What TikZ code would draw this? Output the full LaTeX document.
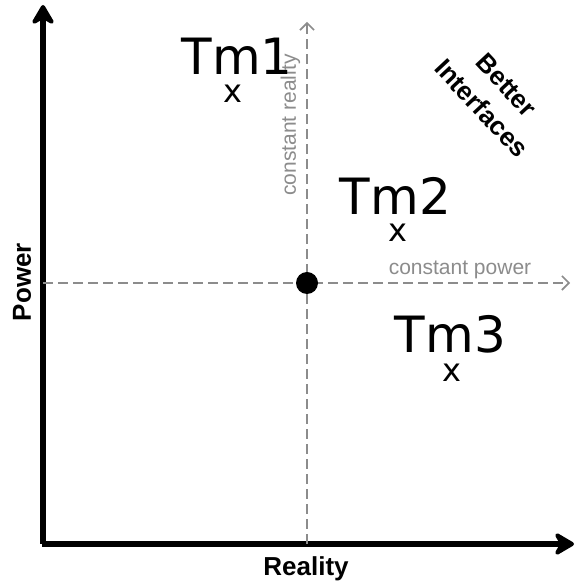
\documentclass[tikz,border=0pt]{standalone}
\usepackage{fontspec}
\setmainfont{Liberation Sans}
\newfontfamily\tmfont{DejaVu Sans}
\usetikzlibrary{arrows.meta}
\definecolor{guidegray}{HTML}{8C8C8C}
\begin{document}
\begin{tikzpicture}[x=0.5pt,y=0.5pt,
  axis/.style={line width=2.6pt,-{Stealth[length=12pt,width=14pt,inset=4pt,round]}},
  guide/.style={guidegray,line width=0.8pt,dash pattern=on 5pt off 2.5pt,-{Straight Barb[length=3.5pt,width=7pt]}},
  guidelabel/.style={guidegray,font=\fontsize{10.5}{12}\selectfont,inner sep=0pt},
  axislabel/.style={font=\fontsize{13}{17}\selectfont\bfseries,inner sep=0pt},
  tmlabel/.style={font=\tmfont\fontsize{25}{28}\selectfont,inner sep=0pt},
  tmmark/.style={font=\tmfont\fontsize{16}{18}\selectfont,inner sep=0pt}]
\useasboundingbox[fill=white] (0,0) rectangle (576,583);
% axes
\coordinate (origin) at (43,39);
\coordinate (powertip) at (43,578);
\coordinate (realitytip) at (574,39);
\draw[axis] (origin) -- (powertip);
\draw[axis] (41.7,39) -- (realitytip);
\node[axislabel,rotate=90] (power) at (22,301) {Power};
\node[axislabel] (reality) at (306,14) {Reality};
% constant lines through the current point
\coordinate (realityfoot) at (307,39);
\coordinate (realitytop) at (307,561);
\coordinate (powerfoot) at (43,300);
\coordinate (powerend) at (570,300);
\draw[guide] (realityfoot) -- (realitytop);
\draw[guide] (powerfoot) -- (powerend);
\node[circle,fill=black,inner sep=0pt,minimum size=11pt] (now) at (307,300) {};
\node[guidelabel,rotate=90] (creality) at (290.5,458) {constant reality};
\node[guidelabel] (cpower) at (460,313) {constant power};
\node[axislabel,rotate=-47,align=center] (better) at (494,486) {Better\\Interfaces};
% techniques
\node[tmlabel] (tmone) at (237,526.5) {Tm1};
\node[tmmark] (tmonex) at (233,489) {x};
\node[tmlabel] (tmtwo) at (395.5,387) {Tm2};
\node[tmmark] (tmtwox) at (398,350.5) {x};
\node[tmlabel] (tmthree) at (450.5,248.5) {Tm3};
\node[tmmark] (tmthreex) at (452,210.5) {x};
\end{tikzpicture}
\end{document}
